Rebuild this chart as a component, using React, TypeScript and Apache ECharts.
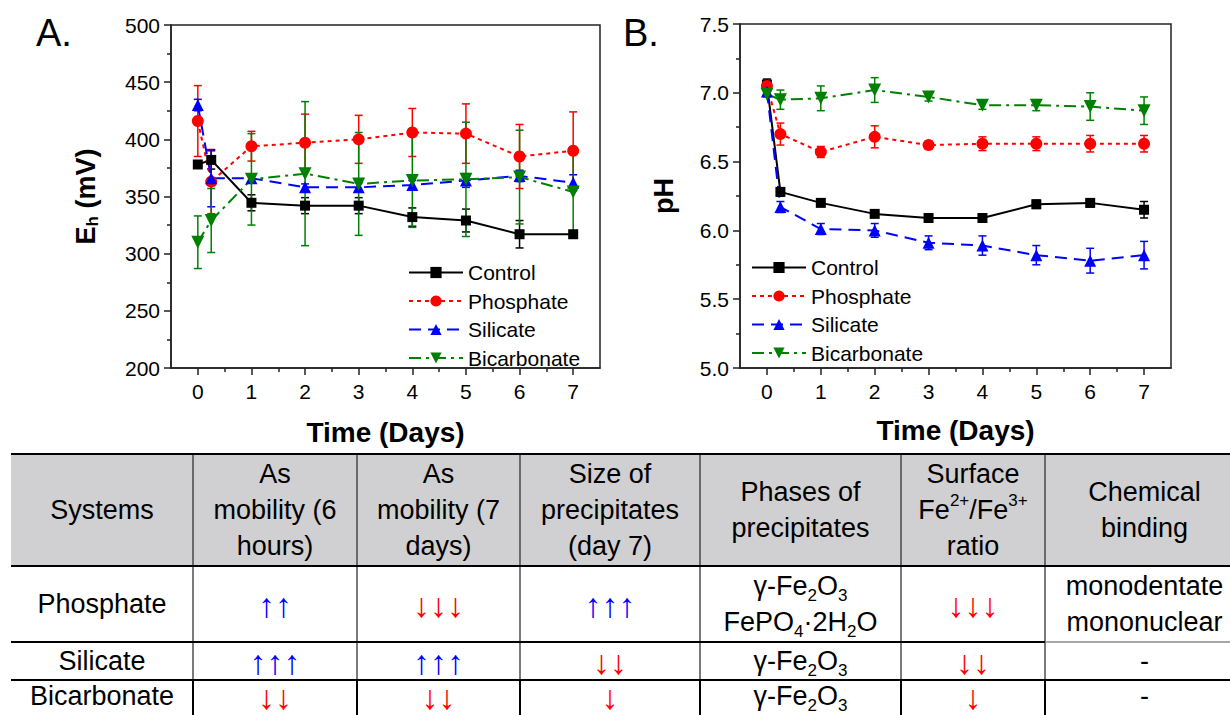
import React, { useEffect, useRef } from 'react';
import * as echarts from 'echarts';

// ---------- data ----------
const days = [0, 0.25, 1, 2, 3, 4, 5, 6, 7];
const seriesNames = ['Control', 'Phosphate', 'Silicate', 'Bicarbonate'];

// Eh (mV)
const ehControl = [378, 382, 344.5, 342, 342, 332, 329, 317, 317];
const ehControlErr = [2, 8, 7, 7, 7, 8, 10, 12, 3];
const ehPhosphate = [416, 363, 394, 397, 400, 406, 405, 385, 390];
const ehPhosphateErr = [31, 28, 13, 25, 21, 21, 26, 28, 34];
const ehSilicate = [430, 366, 366, 358, 358, 360, 364, 368, 362];
const ehSilicateErr = [5, 25, 3, 3, 4, 4, 6, 5, 7];
const ehBicarbonate = [310, 329, 365, 370, 361, 364, 365, 367, 354];
const ehBicarbonateErr = [23, 28, 40, 63, 45, 41, 50, 41, 37];

// pH
const phControl = [7.06, 6.28, 6.2, 6.12, 6.09, 6.09, 6.19, 6.2, 6.15];
const phControlErr = [0.04, 0.03, 0.02, 0.02, 0.02, 0.02, 0.03, 0.03, 0.06];
const phPhosphate = [7.05, 6.7, 6.57, 6.68, 6.62, 6.63, 6.63, 6.63, 6.63];
const phPhosphateErr = [0.03, 0.08, 0.04, 0.08, 0.03, 0.05, 0.05, 0.06, 0.06];
const phSilicate = [7.01, 6.17, 6.01, 6.0, 5.91, 5.89, 5.82, 5.78, 5.82];
const phSilicateErr = [0.02, 0.04, 0.04, 0.05, 0.05, 0.07, 0.07, 0.09, 0.1];
const phBicarbonate = [6.99, 6.95, 6.96, 7.02, 6.97, 6.91, 6.91, 6.9, 6.87];
const phBicarbonateErr = [0.02, 0.07, 0.09, 0.09, 0.03, 0.03, 0.04, 0.1, 0.1];

const dayTicks = [0, 1, 2, 3, 4, 5, 6, 7];
const halfDayTicks = [0.5, 1.5, 2.5, 3.5, 4.5, 5.5, 6.5];

// table
const tableHeader = [
  'Systems',
  'As\nmobility (6\nhours)',
  'As\nmobility (7\ndays)',
  'Size of\nprecipitates\n(day 7)',
  'Phases of\nprecipitates',
  'Surface\nFe{p|2+}/Fe{p|3+}\nratio',
  'Chemical\nbinding',
];
const rowPhosphate = ['Phosphate', '↑↑', '↓↓↓', '↑↑↑', 'γ-Fe{s|2}O{s|3}\nFePO{s|4}·2H{s|2}O', '↓↓↓', 'monodentate\nmononuclear'];
const rowSilicate = ['Silicate', '↑↑↑', '↑↑↑', '↓↓', 'γ-Fe{s|2}O{s|3}', '↓↓', '-'];
const rowBicarbonate = ['Bicarbonate', '↓↓', '↓↓', '↓', 'γ-Fe{s|2}O{s|3}', '↓', '-'];

// ---------- layout / style constants ----------
const FONT = '"Liberation Sans", Arial, Helvetica, sans-serif';
const colEdges = [11, 193, 357, 520, 700, 901, 1045, 1244];
const rowEdges = [454, 566, 642, 680, 712];
const seriesStyles = [
  { color: '#000000', symbol: 'rect', size: 10, rotate: 0, dash: 'solid' as any },
  { color: '#ff0000', symbol: 'circle', size: 12, rotate: 0, dash: [4, 4] },
  { color: '#0000ff', symbol: 'triangle', size: 12, rotate: 0, dash: [12, 7] },
  { color: '#008000', symbol: 'triangle', size: 13, rotate: 180, dash: [12, 5, 3, 5] },
];

function buildSeries(values: number[][], errs: number[][], xi: number, yi: number) {
  const out: any[] = [];
  values.forEach((vals, k) => {
    const st = seriesStyles[k];
    out.push({
      type: 'custom',
      name: seriesNames[k] + ' error',
      xAxisIndex: xi,
      yAxisIndex: yi,
      silent: true,
      z: 1,
      encode: { x: 0, y: [1, 2] },
      data: days.map((d, i) => [d, vals[i] - errs[k][i], vals[i] + errs[k][i]]),
      renderItem: (params: any, api: any) => {
        const x = api.value(0);
        const lo = api.coord([x, api.value(1)]);
        const hi = api.coord([x, api.value(2)]);
        const w = 4;
        const style = { stroke: st.color, lineWidth: 1.5 };
        return {
          type: 'group',
          children: [
            { type: 'line', shape: { x1: lo[0], y1: lo[1], x2: hi[0], y2: hi[1] }, style },
            { type: 'line', shape: { x1: lo[0] - w, y1: lo[1], x2: lo[0] + w, y2: lo[1] }, style },
            { type: 'line', shape: { x1: hi[0] - w, y1: hi[1], x2: hi[0] + w, y2: hi[1] }, style },
          ],
        };
      },
    });
    out.push({
      type: 'line',
      name: seriesNames[k],
      xAxisIndex: xi,
      yAxisIndex: yi,
      z: 2,
      data: days.map((d, i) => [d, vals[i]]),
      symbol: st.symbol,
      symbolSize: st.size,
      symbolRotate: st.rotate,
      showAllSymbol: true,
      itemStyle: { color: st.color },
      lineStyle: { color: st.color, width: 2, type: st.dash },
    });
  });
  return out;
}

function xAxes(gridIndex: number, nameGap: number) {
  return [
    {
      type: 'value',
      gridIndex,
      min: -0.5,
      max: 7.5,
      position: 'bottom',
      name: 'Time (Days)',
      nameLocation: 'middle',
      nameGap,
      nameTextStyle: { fontFamily: FONT, fontSize: 28, fontWeight: 'bold', color: '#000' },
      axisLine: { show: true, onZero: false, lineStyle: { color: '#222', width: 1.5 } },
      axisTick: { show: true, inside: false, length: 7, customValues: dayTicks, lineStyle: { color: '#222', width: 1.5 } },
      axisLabel: { show: true, customValues: dayTicks, margin: 13, fontFamily: FONT, fontSize: 21, color: '#000' },
      splitLine: { show: false },
    },
    {
      type: 'value',
      gridIndex,
      min: -0.5,
      max: 7.5,
      position: 'bottom',
      axisLine: { show: false, onZero: false },
      axisTick: { show: true, inside: false, length: 4, customValues: halfDayTicks, lineStyle: { color: '#222', width: 1.5 } },
      axisLabel: { show: false },
      splitLine: { show: false },
    },
  ];
}

function yAxis(gridIndex: number, min: number, max: number, interval: number, name: string, nameGap: number, fmt: (v: number) => string, rich?: any) {
  return {
    type: 'value',
    gridIndex,
    min,
    max,
    interval,
    name,
    nameLocation: 'middle',
    nameGap,
    nameTextStyle: { fontFamily: FONT, fontSize: 27, fontWeight: 'bold', color: '#000', lineHeight: 30, rich },
    axisLine: { show: true, onZero: false, lineStyle: { color: '#222', width: 1.5 } },
    axisTick: { show: true, inside: false, length: 7, lineStyle: { color: '#222', width: 1.5 } },
    minorTick: { show: true, splitNumber: 2, length: 4, lineStyle: { color: '#222', width: 1.5 } },
    axisLabel: { margin: 11, fontFamily: FONT, fontSize: 21, color: '#000', formatter: fmt },
    splitLine: { show: false },
    minorSplitLine: { show: false },
  };
}

function legend(left: number, top: number) {
  return {
    show: true,
    orient: 'vertical',
    left,
    top,
    padding: 0,
    itemWidth: 54,
    itemHeight: 14,
    itemGap: 7.5,
    selectedMode: false,
    data: seriesNames,
    textStyle: { fontFamily: FONT, fontSize: 21, color: '#000', lineHeight: 20 },
  };
}

function buildTable() {
  const els: any[] = [];
  const x0 = colEdges[0];
  const xEnd = 1232;
  els.push({
    type: 'rect',
    shape: { x: x0, y: rowEdges[0], width: xEnd - x0, height: rowEdges[1] - rowEdges[0] },
    style: { fill: '#d0cfd1' },
    z: 0,
  });
  // vertical lines
  for (let c = 1; c < colEdges.length - 1; c++) {
    els.push({
      type: 'line',
      shape: { x1: colEdges[c], y1: rowEdges[0], x2: colEdges[c], y2: rowEdges[3] },
      style: { stroke: '#333', lineWidth: 1.3 },
      z: 1,
    });
    els.push({
      type: 'line',
      shape: { x1: colEdges[c], y1: rowEdges[3], x2: colEdges[c], y2: 715 },
      style: { stroke: '#000', lineWidth: 2 },
      z: 1,
    });
  }
  // horizontal lines
  for (let r = 0; r < 4; r++) {
    const y = rowEdges[r];
    if (r === 2) {
      els.push({ type: 'line', shape: { x1: x0, y1: y, x2: colEdges[6], y2: y }, style: { stroke: '#000', lineWidth: 2.2 }, z: 2 });
      els.push({ type: 'line', shape: { x1: colEdges[6], y1: y, x2: xEnd, y2: y }, style: { stroke: '#8a8a8a', lineWidth: 1.5 }, z: 2 });
    } else {
      els.push({ type: 'line', shape: { x1: x0, y1: y, x2: xEnd, y2: y }, style: { stroke: '#000', lineWidth: 2.2 }, z: 2 });
    }
  }
  const rich = {
    s: { fontFamily: FONT, fontSize: 17, lineHeight: 21, verticalAlign: 'bottom', fill: '#000' },
    p: { fontFamily: FONT, fontSize: 17, lineHeight: 26, verticalAlign: 'top', fill: '#000' },
  };
  const rows = [tableHeader, rowPhosphate, rowSilicate, rowBicarbonate];
  rows.forEach((row, r) => {
    const cy = (rowEdges[r] + rowEdges[r + 1]) / 2;
    row.forEach((txt, c) => {
      const cx = (colEdges[c] + colEdges[c + 1]) / 2;
      let fill = '#000';
      let isArrow = false;
      if (/^↑+$/.test(txt)) { fill = '#0000ff'; isArrow = true; }
      if (/^↓+$/.test(txt)) { fill = '#ff0000'; isArrow = true; }
      els.push({
        type: 'text',
        x: cx,
        y: cy + (isArrow ? 1 : 0),
        z: 3,
        style: {
          text: txt,
          fill,
          fontFamily: FONT,
          fontSize: isArrow ? 34 : 27,
          lineHeight: isArrow ? 26 : 36,
          align: 'center',
          verticalAlign: 'middle',
          rich,
        },
      });
    });
  });
  return els;
}

export default function App() {
  const ref = useRef<HTMLDivElement>(null);
  useEffect(() => {
    if (!ref.current) return;
    const chart = echarts.init(ref.current, undefined, { renderer: 'svg' });
    const option: any = {
      animation: false,
      backgroundColor: '#ffffff',
      grid: [
        { left: 171, top: 25, width: 429, height: 343, show: true, borderColor: '#222', borderWidth: 1.5, backgroundColor: 'transparent' },
        { left: 740, top: 24, width: 431, height: 344, show: true, borderColor: '#222', borderWidth: 1.5, backgroundColor: 'transparent' },
      ],
      xAxis: [...xAxes(0, 50), ...xAxes(1, 48)],
      yAxis: [
        yAxis(0, 200, 500, 50, '{e|E}{h|h}{e| (mV)}', 70, (v: number) => String(v), {
          e: { fontFamily: FONT, fontSize: 27, fontWeight: 'bold', lineHeight: 30 },
          h: { fontFamily: FONT, fontSize: 17, fontWeight: 'bold', lineHeight: 20, verticalAlign: 'bottom' },
        }),
        yAxis(1, 5, 7.5, 0.5, 'pH', 61, (v: number) => v.toFixed(1)),
      ],
      legend: [legend(408, 262), legend(751, 257)],
      series: [
        ...buildSeries([ehControl, ehPhosphate, ehSilicate, ehBicarbonate], [ehControlErr, ehPhosphateErr, ehSilicateErr, ehBicarbonateErr], 0, 0),
        ...buildSeries([phControl, phPhosphate, phSilicate, phBicarbonate], [phControlErr, phPhosphateErr, phSilicateErr, phBicarbonateErr], 2, 1),
      ],
      graphic: [
        { type: 'text', x: 36, y: 33, style: { text: 'A.', fontFamily: FONT, fontSize: 38, fill: '#000', verticalAlign: 'middle' } },
        { type: 'text', x: 623, y: 33, style: { text: 'B.', fontFamily: FONT, fontSize: 38, fill: '#000', verticalAlign: 'middle' } },
        ...buildTable(),
      ],
    };
    chart.setOption(option);
    return () => chart.dispose();
  }, []);
  return <div ref={ref} style={{ position: 'fixed', left: 0, top: 0, width: 1230, height: 715, background: '#fff' }} />;
}
